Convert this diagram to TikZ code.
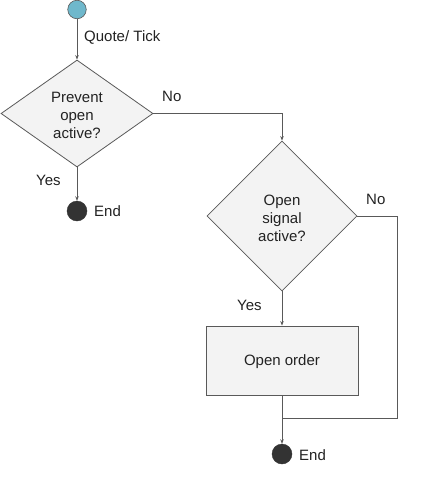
\documentclass[tikz,border=0pt]{standalone}
\usepackage{fontspec}
\setmainfont{Liberation Sans}
\usetikzlibrary{shapes.geometric,arrows.meta}
\definecolor{lineg}{HTML}{595959}
\definecolor{fillg}{HTML}{F3F3F3}
\definecolor{startc}{HTML}{6FB8CC}
\definecolor{endc}{HTML}{333333}
\definecolor{txtc}{HTML}{222222}
\begin{document}
\begin{tikzpicture}[x=1pt,y=-1pt,
  dia/.style={diamond, draw=lineg, fill=fillg, inner sep=0pt, line width=0.8pt},
  procbox/.style={rectangle, draw=lineg, fill=fillg, inner sep=0pt, line width=0.8pt},
  conn/.style={draw=lineg, line width=0.8pt},
  arr/.style={conn, -{Stealth[length=4.5pt,width=3.5pt]}},
  lbl/.style={inner sep=0pt, font=\fontsize{15}{18}\selectfont, text=txtc},
  endn/.style={circle, fill=endc, draw=endc, minimum size=20pt, inner sep=0pt},
  startn/.style={circle, fill=startc, draw=lineg, line width=0.6pt, minimum size=18.5pt, inner sep=0pt}]
\useasboundingbox (0,0) rectangle (428,490);

\node[startn] (s) at (77,9.5) {};
\node[dia, minimum width=152pt, minimum height=107pt] (d1) at (77,113.5) {};
\node[lbl, align=center] (t1) at ([yshift=-2pt]d1.center) {Prevent\\open\\active?};
\node[endn] (e1) at (77,211) {};
\node[dia, minimum width=150pt, minimum height=150pt] (d2) at (282,216) {};
\node[lbl, align=center] (t2) at ([yshift=-2pt]d2.center) {Open\\signal\\active?};
\node[procbox, minimum width=152pt, minimum height=69pt] (b) at (282,360.5) {};
\node[lbl] (t3) at ([yshift=-1pt]b.center) {Open order};
\node[endn] (e2) at (282,454) {};
\coordinate (r) at (397,216);
\coordinate (j) at (282,418);

\draw[arr] (s) -- (d1.north);
\draw[arr] (d1.south) -- (e1);
\draw[arr] (d1.east) -| (d2.north);
\draw[arr] (d2.south) -- (b.north);
\draw[arr] (b.south) -- (e2);
\draw[conn] (d2.east) -- (r) |- (j);

\node[lbl, anchor=base west] (lq) at (84,41) {Quote/ Tick};
\node[lbl, anchor=base west] (ln1) at (162,101.5) {No};
\node[lbl, anchor=base west] (ly1) at (36,185.5) {Yes};
\node[lbl, anchor=base west] (le1) at (94,216) {End};
\node[lbl, anchor=base west] (ln2) at (366,204) {No};
\node[lbl, anchor=base west] (ly2) at (237,310) {Yes};
\node[lbl, anchor=base west] (le2) at (299,460) {End};
\end{tikzpicture}
\end{document}
